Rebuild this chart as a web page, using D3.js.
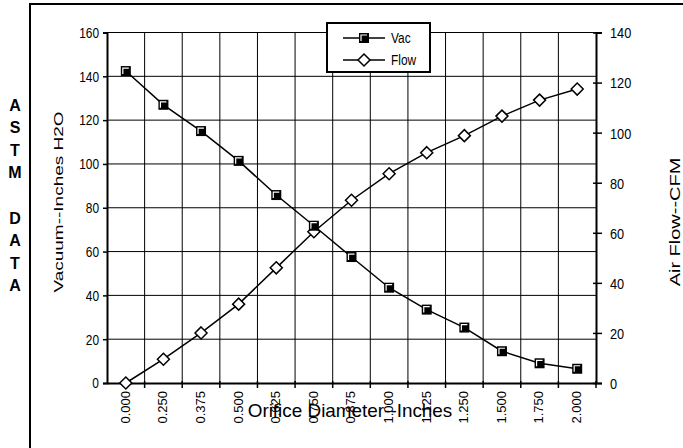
<!DOCTYPE html>
<html><head><meta charset="utf-8">
<script src="https://cdn.jsdelivr.net/npm/d3@7"></script>
<style>html,body{margin:0;padding:0;background:#fff;}svg{display:block;}</style>
</head><body>
<svg id="c" width="683" height="448"></svg>
<script>
const categories = ["0.000","0.250","0.375","0.500","0.625","0.750","0.875","1.000","1.125","1.250","1.500","1.750","2.000"];
const vac  = [142.4, 127, 115, 101.4, 85.8, 71.8, 57.5, 43.5, 33.5, 25.3, 14.5, 9, 6.5];
const flow = [0, 9.5, 20, 31.5, 46, 60.4, 73, 83.6, 92, 98.8, 106.6, 113, 117.4];
const leftTicks  = [0,20,40,60,80,100,120,140,160];
const rightTicks = [0,20,40,60,80,100,120,140];
const sideLetters = ["A","S","T","M","","D","A","T","A"];

const svg = d3.select("#c");
const FONT = "Liberation Sans, Arial, sans-serif";
const L = 107, R = 596, T = 32.5, B = 383;

const x = d3.scaleBand().domain(categories).range([L, R]).padding(0);
const yL = d3.scaleLinear().domain([0,160]).range([B, T]);
const yR = d3.scaleLinear().domain([0,140]).range([B, T]);
const cx = c => x(c) + x.bandwidth()/2;

function txt(g, s, px, py, size, opts={}) {
  const k = opts.k == null ? 1 : opts.k;
  const rot = opts.rotate ? ` rotate(${opts.rotate})` : "";
  return g.append("text").text(s)
    .attr("transform", `translate(${px},${py}) scale(${k},1)${rot}`)
    .attr("font-family", FONT).attr("font-size", size)
    .attr("font-weight", opts.bold ? "bold" : "normal")
    .attr("text-anchor", opts.anchor || "start")
    .attr("dominant-baseline", opts.baseline || "auto")
    .attr("fill", "#000");
}

// outer border
svg.append("rect").attr("x",30).attr("y",4).attr("width",700).attr("height",500)
  .attr("fill","none").attr("stroke","#000").attr("stroke-width",2);

// gridlines
const grid = svg.append("g").attr("stroke","#000").attr("stroke-width",1);
grid.selectAll("line.h").data(leftTicks.filter(v=>v>0)).join("line")
  .attr("x1",L).attr("x2",R).attr("y1",d=>yL(d)).attr("y2",d=>yL(d));
grid.selectAll("line.v").data(categories.slice(1)).join("line")
  .attr("x1",d=>x(d)).attr("x2",d=>x(d)).attr("y1",T).attr("y2",B);

// left axis
const gl = svg.append("g").attr("transform",`translate(${L},0)`)
  .call(d3.axisLeft(yL).tickValues(leftTicks).tickSize(4).tickFormat(d3.format("d")));
gl.select(".domain").attr("stroke-width",2);
gl.selectAll(".tick line").attr("stroke-width",1.5);
gl.selectAll(".tick text").remove();
gl.selectAll(".tick").each(function(d){
  txt(d3.select(this), String(d), -8, 0, 14, {anchor:"end", baseline:"central", k:0.85});
});

// right axis
const gr = svg.append("g").attr("transform",`translate(${R},0)`)
  .call(d3.axisRight(yR).tickValues(rightTicks).tickSize(6).tickFormat(d3.format("d")));
gr.select(".domain").attr("stroke-width",2);
gr.selectAll(".tick line").attr("x1",-3).attr("stroke-width",1.5);
gr.selectAll(".tick text").remove();
gr.selectAll(".tick").each(function(d){
  txt(d3.select(this), String(d), 14, 0, 15, {anchor:"start", baseline:"central", k:0.85});
});

// bottom axis
const gb = svg.append("g").attr("transform",`translate(0,${B})`)
  .call(d3.axisBottom(x).tickSize(0).tickFormat(""));
gb.select(".domain").attr("stroke-width",2);
gb.selectAll(".tick").each(function(d){
  txt(d3.select(this), d, 0, 8, 13, {anchor:"end", baseline:"central", rotate:-90, k:0.95});
});
gb.selectAll("line.bt").data(categories.slice(1).concat(["__end"])).join("line")
  .attr("x1",d=>d==="__end"?R:x(d)).attr("x2",d=>d==="__end"?R:x(d))
  .attr("y1",-2).attr("y2",5).attr("stroke","#000").attr("stroke-width",1.5);

// series lines
const lineV = d3.line().x((d,i)=>cx(categories[i])).y(d=>yL(d));
const lineF = d3.line().x((d,i)=>cx(categories[i])).y(d=>yR(d));
svg.append("path").attr("d",lineV(vac)).attr("fill","none").attr("stroke","#000").attr("stroke-width",1.5);
svg.append("path").attr("d",lineF(flow)).attr("fill","none").attr("stroke","#000").attr("stroke-width",1.5);

function squareMarker(g, px, py) {
  g.append("rect").attr("x",px-5).attr("y",py-5).attr("width",10).attr("height",10).attr("fill","#000");
  g.append("path").attr("d",`M${px-3},${py+3}V${py-3}H${px+3}`).attr("fill","none")
    .attr("stroke","#fff").attr("stroke-width",1.2);
}
function diamondMarker(g, px, py) {
  g.append("path").attr("d",`M${px},${py-6}L${px+6},${py}L${px},${py+6}L${px-6},${py}Z`)
    .attr("fill","#fff").attr("stroke","#000").attr("stroke-width",1.5);
}
const mk = svg.append("g");
flow.forEach((v,i)=>diamondMarker(mk, cx(categories[i]), yR(v)));
vac.forEach((v,i)=>squareMarker(mk, cx(categories[i]), yL(v)));

// titles
txt(svg, "Orifice Diameter--Inches", 350, 411, 18, {anchor:"middle", baseline:"central", k:1.05});
txt(svg, "Vacuum--Inches H2O", 58, 202, 19, {anchor:"middle", baseline:"central", rotate:-90, k:0.72});
txt(svg, "Air Flow--CFM", 675, 222, 20, {anchor:"middle", baseline:"central", rotate:-90, k:0.72});

// side letters
sideLetters.forEach((s,i)=>{ if(s) txt(svg, s, 15, 105 + i*22.6, 16, {anchor:"middle", baseline:"central", bold:true}); });

// legend
const lg = svg.append("g");
lg.append("rect").attr("x",327).attr("y",23).attr("width",103).attr("height",49)
  .attr("fill","#fff").attr("stroke","#000").attr("stroke-width",2);
[["Vac",38,squareMarker],["Flow",60,diamondMarker]].forEach(([name,yy,fn])=>{
  lg.append("line").attr("x1",343).attr("x2",385).attr("y1",yy).attr("y2",yy).attr("stroke","#000").attr("stroke-width",1.5);
  fn(lg, 364, yy);
  txt(lg, name, 391, yy, 14, {anchor:"start", baseline:"central", k:0.85});
});
</script>
</body></html>
